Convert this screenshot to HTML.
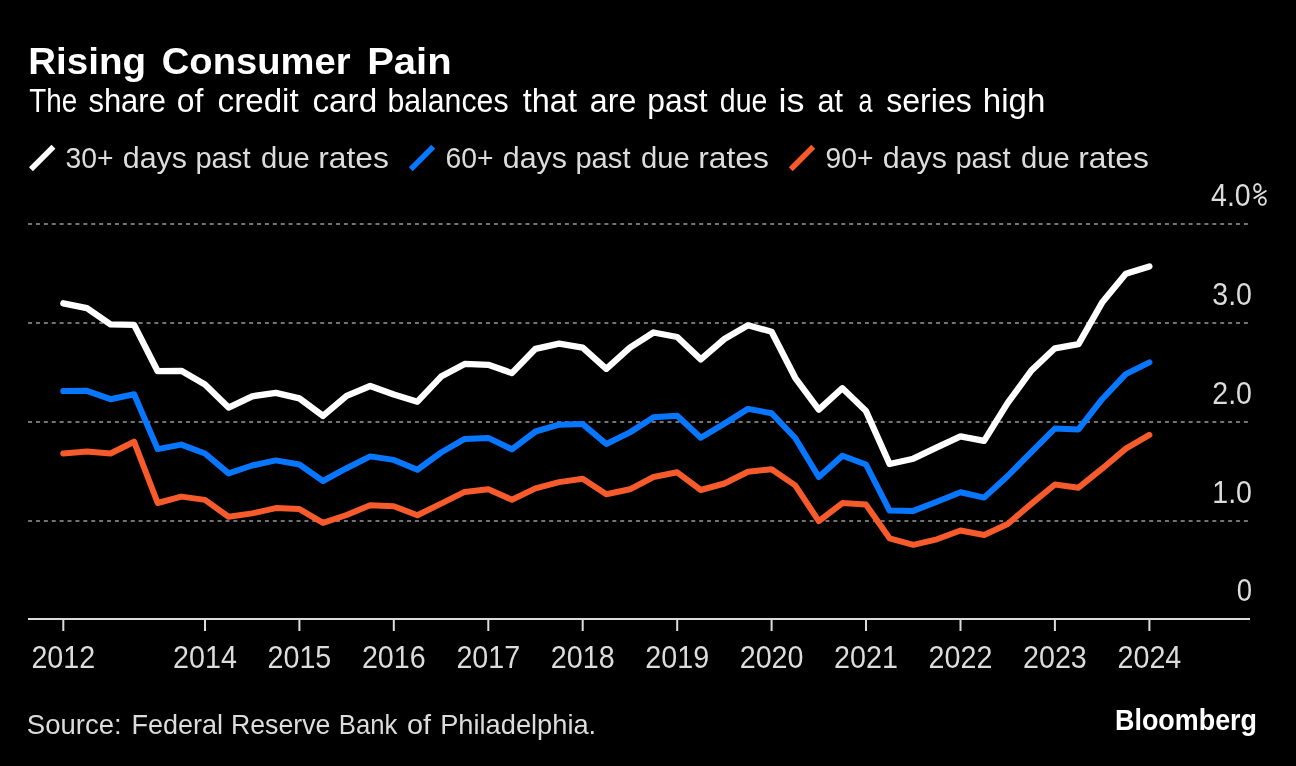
<!DOCTYPE html>
<html><head><meta charset="utf-8">
<style>
html,body{margin:0;padding:0;background:#000;}
body{width:1296px;height:766px;overflow:hidden;}
svg{display:block;will-change:transform;}
text{font-family:"Liberation Sans",sans-serif;}
.ax{font-size:31px;fill:#dcdcdc;}
.lg{font-size:30px;fill:#dcdcdc;}
</style></head><body>
<svg width="1296" height="766" viewBox="0 0 1296 766">
<rect width="1296" height="766" fill="#000"/>
<text x="28.20" y="74" font-size="37.5" font-weight="bold" fill="#fff" textLength="117.83" lengthAdjust="spacingAndGlyphs">Rising</text><text x="161.80" y="74" font-size="37.5" font-weight="bold" fill="#fff" textLength="188.71" lengthAdjust="spacingAndGlyphs">Consumer</text><text x="367.20" y="74" font-size="37.5" font-weight="bold" fill="#fff" textLength="84.49" lengthAdjust="spacingAndGlyphs">Pain</text><text x="26.80" y="733.6" font-size="28" fill="#dcdcdc" textLength="94.80" lengthAdjust="spacingAndGlyphs">Source:</text><text x="131.40" y="733.6" font-size="28" fill="#dcdcdc" textLength="91.58" lengthAdjust="spacingAndGlyphs">Federal</text><text x="231.00" y="733.6" font-size="28" fill="#dcdcdc" textLength="99.35" lengthAdjust="spacingAndGlyphs">Reserve</text><text x="338.80" y="733.6" font-size="28" fill="#dcdcdc" textLength="58.53" lengthAdjust="spacingAndGlyphs">Bank</text><text x="407.00" y="733.6" font-size="28" fill="#dcdcdc" textLength="24.09" lengthAdjust="spacingAndGlyphs">of</text><text x="440.20" y="733.6" font-size="28" fill="#dcdcdc" textLength="155.97" lengthAdjust="spacingAndGlyphs">Philadelphia.</text><text x="29.20" y="111.6" font-size="32.5" fill="#fff" textLength="47.93" lengthAdjust="spacingAndGlyphs">The</text><text x="88.40" y="111.6" font-size="32.5" fill="#fff" textLength="77.53" lengthAdjust="spacingAndGlyphs">share</text><text x="176.80" y="111.6" font-size="32.5" fill="#fff" textLength="26.59" lengthAdjust="spacingAndGlyphs">of</text><text x="217.60" y="111.6" font-size="32.5" fill="#fff" textLength="81.11" lengthAdjust="spacingAndGlyphs">credit</text><text x="312.40" y="111.6" font-size="32.5" fill="#fff" textLength="64.79" lengthAdjust="spacingAndGlyphs">card</text><text x="387.40" y="111.6" font-size="32.5" fill="#fff" textLength="121.15" lengthAdjust="spacingAndGlyphs">balances</text><text x="522.80" y="111.6" font-size="32.5" fill="#fff" textLength="54.13" lengthAdjust="spacingAndGlyphs">that</text><text x="589.80" y="111.6" font-size="32.5" fill="#fff" textLength="46.58" lengthAdjust="spacingAndGlyphs">are</text><text x="647.20" y="111.6" font-size="32.5" fill="#fff" textLength="60.32" lengthAdjust="spacingAndGlyphs">past</text><text x="719.80" y="111.6" font-size="32.5" fill="#fff" textLength="47.53" lengthAdjust="spacingAndGlyphs">due</text><text x="778.60" y="111.6" font-size="32.5" fill="#fff" textLength="25.98" lengthAdjust="spacingAndGlyphs">is</text><text x="817.60" y="111.6" font-size="32.5" fill="#fff" textLength="25.52" lengthAdjust="spacingAndGlyphs">at</text><text x="858.40" y="111.6" font-size="32.5" fill="#fff" textLength="13.94" lengthAdjust="spacingAndGlyphs">a</text><text x="886.20" y="111.6" font-size="32.5" fill="#fff" textLength="85.71" lengthAdjust="spacingAndGlyphs">series</text><text x="982.80" y="111.6" font-size="32.5" fill="#fff" textLength="62.48" lengthAdjust="spacingAndGlyphs">high</text><text x="65.60" y="167.8" font-size="30" fill="#dcdcdc" textLength="47.95" lengthAdjust="spacingAndGlyphs">30+</text><text x="122.80" y="167.8" font-size="30" fill="#dcdcdc" textLength="64.18" lengthAdjust="spacingAndGlyphs">days</text><text x="195.40" y="167.8" font-size="30" fill="#dcdcdc" textLength="55.15" lengthAdjust="spacingAndGlyphs">past</text><text x="261.00" y="167.8" font-size="30" fill="#dcdcdc" textLength="48.79" lengthAdjust="spacingAndGlyphs">due</text><text x="318.20" y="167.8" font-size="30" fill="#dcdcdc" textLength="70.78" lengthAdjust="spacingAndGlyphs">rates</text><text x="445.60" y="167.8" font-size="30" fill="#dcdcdc" textLength="47.97" lengthAdjust="spacingAndGlyphs">60+</text><text x="502.80" y="167.8" font-size="30" fill="#dcdcdc" textLength="64.18" lengthAdjust="spacingAndGlyphs">days</text><text x="575.40" y="167.8" font-size="30" fill="#dcdcdc" textLength="55.15" lengthAdjust="spacingAndGlyphs">past</text><text x="641.00" y="167.8" font-size="30" fill="#dcdcdc" textLength="48.79" lengthAdjust="spacingAndGlyphs">due</text><text x="698.20" y="167.8" font-size="30" fill="#dcdcdc" textLength="70.78" lengthAdjust="spacingAndGlyphs">rates</text><text x="825.60" y="167.8" font-size="30" fill="#dcdcdc" textLength="47.95" lengthAdjust="spacingAndGlyphs">90+</text><text x="882.80" y="167.8" font-size="30" fill="#dcdcdc" textLength="64.18" lengthAdjust="spacingAndGlyphs">days</text><text x="955.40" y="167.8" font-size="30" fill="#dcdcdc" textLength="55.15" lengthAdjust="spacingAndGlyphs">past</text><text x="1021.00" y="167.8" font-size="30" fill="#dcdcdc" textLength="48.79" lengthAdjust="spacingAndGlyphs">due</text><text x="1078.20" y="167.8" font-size="30" fill="#dcdcdc" textLength="70.78" lengthAdjust="spacingAndGlyphs">rates</text>
<line x1="30.950000000000003" y1="169.25" x2="53.45" y2="146.75" stroke="#ffffff" stroke-width="5.5" stroke-linecap="butt"/><line x1="410.75" y1="169.25" x2="433.25" y2="146.75" stroke="#0877ff" stroke-width="5.5" stroke-linecap="butt"/><line x1="790.75" y1="169.25" x2="813.25" y2="146.75" stroke="#f75b2b" stroke-width="5.5" stroke-linecap="butt"/>
<line x1="28.1" y1="224" x2="1248.3" y2="224" stroke="#737373" stroke-width="2" stroke-dasharray="3.95 3.945"/><line x1="28.1" y1="323" x2="1248.3" y2="323" stroke="#737373" stroke-width="2" stroke-dasharray="3.95 3.945"/><line x1="28.1" y1="422" x2="1248.3" y2="422" stroke="#737373" stroke-width="2" stroke-dasharray="3.95 3.945"/><line x1="28.1" y1="521" x2="1248.3" y2="521" stroke="#737373" stroke-width="2" stroke-dasharray="3.95 3.945"/>
<text x="1250.7" y="206" text-anchor="end" class="ax" textLength="39.7" lengthAdjust="spacingAndGlyphs">4.0</text><text x="1252" y="305" text-anchor="end" class="ax" textLength="39.7" lengthAdjust="spacingAndGlyphs">3.0</text><text x="1252" y="404" text-anchor="end" class="ax" textLength="39.7" lengthAdjust="spacingAndGlyphs">2.0</text><text x="1252" y="503" text-anchor="end" class="ax" textLength="39.7" lengthAdjust="spacingAndGlyphs">1.0</text><text x="1252" y="601" text-anchor="end" class="ax" textLength="15.3" lengthAdjust="spacingAndGlyphs">0</text><g fill="none" stroke="#dcdcdc" stroke-width="1.9"><ellipse cx="1257.4" cy="188" rx="3.3" ry="4"/><ellipse cx="1262.4" cy="201.1" rx="3.45" ry="3.8"/><line x1="1254.3" y1="198.1" x2="1265.8" y2="191" stroke-linecap="round"/></g>
<rect x="28" y="618" width="1222" height="2" fill="#dcdcdc"/>
<rect x="62.3" y="619" width="2" height="12" fill="#dcdcdc"/><text x="63.3" y="667.7" text-anchor="middle" class="ax" textLength="63.8" lengthAdjust="spacingAndGlyphs">2012</text><rect x="204.0" y="619" width="2" height="12" fill="#dcdcdc"/><text x="205.0" y="667.7" text-anchor="middle" class="ax" textLength="63.8" lengthAdjust="spacingAndGlyphs">2014</text><rect x="298.4" y="619" width="2" height="12" fill="#dcdcdc"/><text x="299.4" y="667.7" text-anchor="middle" class="ax" textLength="63.8" lengthAdjust="spacingAndGlyphs">2015</text><rect x="392.8" y="619" width="2" height="12" fill="#dcdcdc"/><text x="393.8" y="667.7" text-anchor="middle" class="ax" textLength="63.8" lengthAdjust="spacingAndGlyphs">2016</text><rect x="487.3" y="619" width="2" height="12" fill="#dcdcdc"/><text x="488.3" y="667.7" text-anchor="middle" class="ax" textLength="63.8" lengthAdjust="spacingAndGlyphs">2017</text><rect x="581.7" y="619" width="2" height="12" fill="#dcdcdc"/><text x="582.7" y="667.7" text-anchor="middle" class="ax" textLength="63.8" lengthAdjust="spacingAndGlyphs">2018</text><rect x="676.2" y="619" width="2" height="12" fill="#dcdcdc"/><text x="677.2" y="667.7" text-anchor="middle" class="ax" textLength="63.8" lengthAdjust="spacingAndGlyphs">2019</text><rect x="770.6" y="619" width="2" height="12" fill="#dcdcdc"/><text x="771.6" y="667.7" text-anchor="middle" class="ax" textLength="63.8" lengthAdjust="spacingAndGlyphs">2020</text><rect x="865.0" y="619" width="2" height="12" fill="#dcdcdc"/><text x="866.0" y="667.7" text-anchor="middle" class="ax" textLength="63.8" lengthAdjust="spacingAndGlyphs">2021</text><rect x="959.5" y="619" width="2" height="12" fill="#dcdcdc"/><text x="960.5" y="667.7" text-anchor="middle" class="ax" textLength="63.8" lengthAdjust="spacingAndGlyphs">2022</text><rect x="1053.9" y="619" width="2" height="12" fill="#dcdcdc"/><text x="1054.9" y="667.7" text-anchor="middle" class="ax" textLength="63.8" lengthAdjust="spacingAndGlyphs">2023</text><rect x="1148.4" y="619" width="2" height="12" fill="#dcdcdc"/><text x="1149.4" y="667.7" text-anchor="middle" class="ax" textLength="63.8" lengthAdjust="spacingAndGlyphs">2024</text>
<polyline points="63.3,453.5 86.9,451.5 110.5,453.5 134.1,441.7 157.7,503.0 181.3,496.6 205.0,499.9 228.6,516.8 252.2,513.4 275.8,508.1 299.4,509.1 323.0,522.8 346.6,515.0 370.2,505.2 393.8,506.2 417.4,515.2 441.1,503.6 464.7,491.9 488.3,489.3 511.9,499.7 535.5,488.4 559.1,482.1 582.7,478.8 606.3,494.2 629.9,489.3 653.5,477.0 677.2,472.3 700.8,490.0 724.4,483.5 748.0,471.7 771.6,469.2 795.2,485.4 818.8,521.1 842.4,503.1 866.0,504.6 889.6,538.3 913.3,544.8 936.9,539.3 960.5,530.5 984.1,535.0 1007.7,524.0 1031.3,503.9 1054.9,484.5 1078.5,487.7 1102.1,468.7 1125.8,448.6 1149.4,434.9" fill="none" stroke="#f75b2b" stroke-width="6" stroke-linejoin="round" stroke-linecap="round"/>
<polyline points="63.3,391.1 86.9,390.8 110.5,399.2 134.1,394.3 157.7,449.1 181.3,444.6 205.0,453.5 228.6,473.4 252.2,465.5 275.8,460.4 299.4,464.5 323.0,481.0 346.6,468.2 370.2,456.4 393.8,459.9 417.4,469.7 441.1,452.5 464.7,438.9 488.3,437.9 511.9,449.3 535.5,431.5 559.1,424.7 582.7,424.1 606.3,444.0 629.9,432.4 653.5,417.3 677.2,415.8 700.8,437.8 724.4,423.6 748.0,408.9 771.6,413.2 795.2,438.0 818.8,477.0 842.4,455.7 866.0,464.5 889.6,510.6 913.3,510.9 936.9,501.7 960.5,492.3 984.1,497.6 1007.7,476.0 1031.3,452.2 1054.9,428.5 1078.5,429.4 1102.1,399.2 1125.8,374.1 1149.4,362.4" fill="none" stroke="#0877ff" stroke-width="6" stroke-linejoin="round" stroke-linecap="round"/>
<polyline points="63.3,303.3 86.9,308.2 110.5,324.3 134.1,324.9 157.7,371.2 181.3,370.8 205.0,384.5 228.6,407.6 252.2,396.3 275.8,392.9 299.4,398.4 323.0,415.9 346.6,395.8 370.2,386.0 393.8,394.5 417.4,401.7 441.1,376.6 464.7,363.9 488.3,364.8 511.9,373.1 535.5,348.8 559.1,343.7 582.7,347.6 606.3,368.8 629.9,347.6 653.5,332.5 677.2,337.0 700.8,359.4 724.4,339.0 748.0,325.3 771.6,331.7 795.2,377.8 818.8,409.6 842.4,388.2 866.0,411.1 889.6,464.0 913.3,458.7 936.9,447.3 960.5,436.3 984.1,440.9 1007.7,402.9 1031.3,370.6 1054.9,348.3 1078.5,344.1 1102.1,302.6 1125.8,273.8 1149.4,266.4" fill="none" stroke="#ffffff" stroke-width="6.3" stroke-linejoin="round" stroke-linecap="round"/>

<text x="1115" y="730" font-size="30" font-weight="bold" fill="#fff" textLength="142" lengthAdjust="spacingAndGlyphs">Bloomberg</text>
</svg>
</body></html>
